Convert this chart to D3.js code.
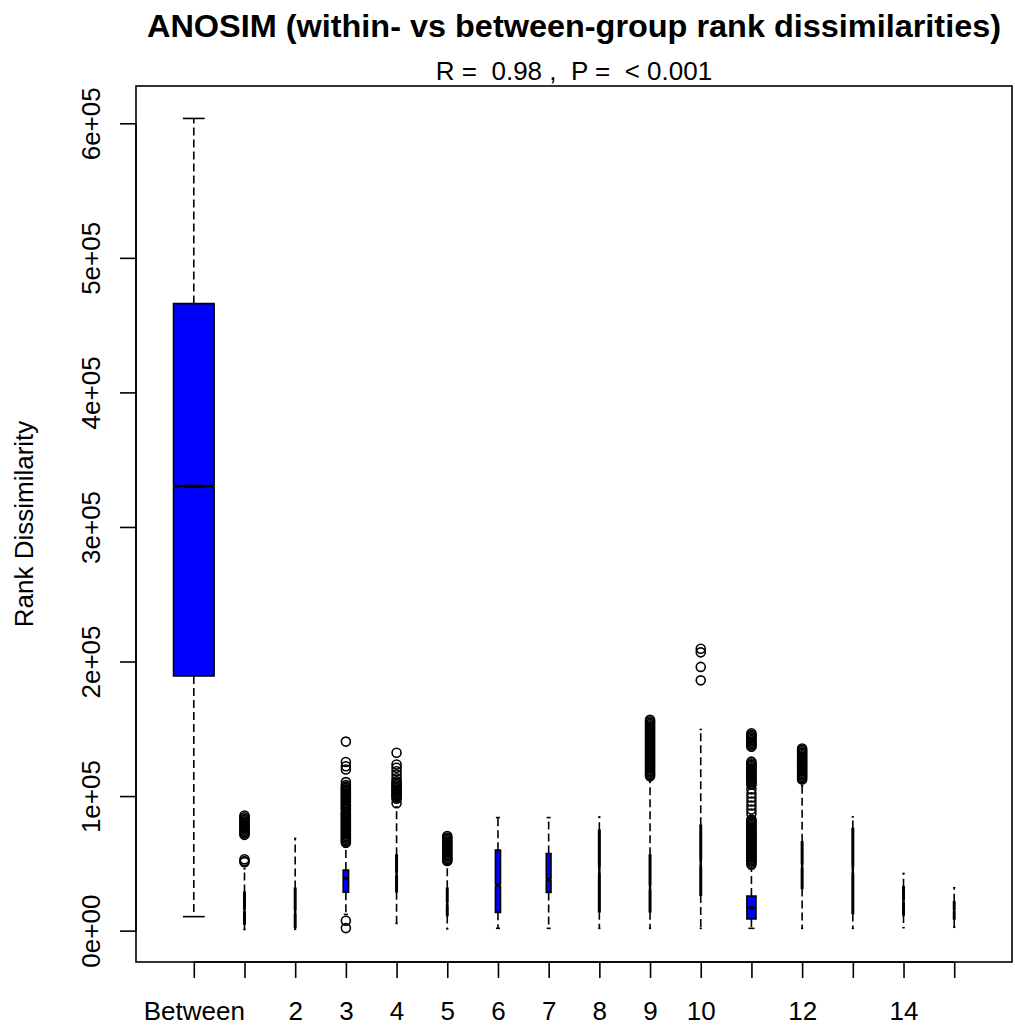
<!DOCTYPE html>
<html>
<head>
<meta charset="utf-8">
<script src="https://cdn.jsdelivr.net/npm/d3@7"></script>
<style>
  html, body { margin: 0; padding: 0; background: #fff; }
  svg text { font-family: "Liberation Sans", Arial, sans-serif; white-space: pre; fill: #000; }
</style>
</head>
<body>
<svg id="chart" width="1015" height="1028"></svg>
<script>
// ANOSIM rank dissimilarities: "Between" plus within-group classes 1..15
const groups = ["Between", "1", "2", "3", "4", "5", "6", "7", "8", "9", "10", "11", "12", "13", "14", "15"];
// labels that survive R's overlap check on the x axis
const xTickLabels = ["Between", "", "2", "3", "4", "5", "6", "7", "8", "9", "10", "", "12", "", "14", ""];
// number of dissimilarity pairs in each class (drives varwidth and notches)
const pairCounts = [522000, 620, 600, 9200, 640, 590, 8200, 7000, 650, 630, 610, 26200, 620, 640, 600, 580];

// five-number summaries
const whiskerLow  = [10400, 800, 1000, 12000, 5400, 1300, 1700, 1700, 1700, 1700, 1700, 1700, 1700, 1700, 2200, 2500];
const lowerHinge  = [189300, 5000, 2500, 28500, 28900, 11300, 13600, 28400, 14100, 14100, 26400, 8600, 31400, 12800, 11600, 8600];
const medians     = [330300, 15000, 14000, 39000, 42000, 20000, 33800, 38000, 45000, 32000, 50000, 17000, 48000, 45000, 22000, 15000];
const upperHinge  = [466000, 28400, 31400, 45000, 56100, 31500, 59800, 57300, 74600, 56100, 78300, 25700, 66000, 75900, 32600, 21500];
const whiskerHigh = [603600, 46000, 68500, 62000, 92000, 48600, 84000, 84000, 84500, 110700, 149500, 46000, 107800, 84500, 42500, 31900];

// points beyond the whiskers
const outliersBetween = [];
const outliers1 = [85600, 84300, 83200, 82200, 81200, 80200, 79200, 78200, 77200, 76200, 75200, 74200, 73200, 72200, 71200, 53000, 51800, 50900];
const outliers2 = [];
const outliers3 = [140500, 125300, 122200, 119800, 110400, 108200, 107000, 106000, 105000, 104000, 103000, 102000, 101000, 100000, 99000, 98000, 97000, 96000, 95000, 94000, 93000, 92000, 91000, 90200, 88400, 87400, 86400, 85400, 84400, 83400, 82400, 81400, 80400, 79400, 78400, 77400, 76400, 75400, 74400, 73400, 72400, 71400, 70400, 69400, 68400, 67400, 66400, 65400, 7300, 1900];
const outliers4 = [132200, 123500, 121000, 118500, 116000, 113200, 111000, 110000, 109000, 108000, 107000, 106000, 105000, 104000, 103000, 102000, 101000, 100000, 99000, 98000, 94700];
const outliers5 = [70300, 69200, 68200, 67200, 66200, 65200, 64200, 63200, 62200, 61200, 60200, 59200, 58200, 57200, 56200, 55200, 54200, 53200, 52200, 51800];
const outliers6 = [];
const outliers7 = [];
const outliers8 = [];
const outliers9 = [156700, 155600, 154600, 153600, 152600, 151600, 150600, 149600, 148600, 147600, 146600, 145600, 144600, 143600, 142600, 141600, 140600, 139600, 138600, 137600, 136600, 135600, 134600, 133600, 132600, 131600, 130600, 129600, 128600, 127600, 126600, 125600, 124600, 123600, 122600, 121600, 120600, 119600, 118600, 117600, 116600, 115600, 114800];
const outliers10 = [209500, 206800, 196000, 186000];
const outliers11 = [146700, 145600, 144600, 143600, 142600, 141600, 140600, 139600, 138600, 137600, 136700,
  125600, 124400, 123400, 122400, 121400, 120400, 119400, 118400, 117400, 116400, 115400, 114400, 113400, 112400, 111400, 110400, 109400, 108500,
  105000, 102000, 99000, 96000, 93000, 90000, 87000,
  82500, 81500, 80500, 79500, 78500, 77500, 76500, 75500, 74500, 73500, 72500, 71500, 70500, 69500, 68500, 67500, 66500, 65500, 64500, 63500, 62500, 61500, 60500, 59500, 58500, 57500, 56500, 55500, 54500, 53500, 52500, 51500, 50500, 49200];
const outliers12 = [135400, 134300, 133300, 132300, 131300, 130300, 129300, 128300, 127300, 126300, 125300, 124300, 123300, 122300, 121300, 120300, 119300, 118300, 117300, 116300, 115300, 114300, 113300, 112400];
const outliers13 = [];
const outliers14 = [];
const outliers15 = [];
const outliers = [outliersBetween, outliers1, outliers2, outliers3, outliers4, outliers5, outliers6, outliers7,
  outliers8, outliers9, outliers10, outliers11, outliers12, outliers13, outliers14, outliers15];

const yTicks = [0, 100000, 200000, 300000, 400000, 500000, 600000];
const yTickLabels = ["0e+00", "1e+05", "2e+05", "3e+05", "4e+05", "5e+05", "6e+05"];

const titleText = "ANOSIM (within- vs between-group rank dissimilarities)";
const statText = "R =  0.98 ,  P =  < 0.001";
const yTitle = "Rank Dissimilarity";

// ---- layout ----
const svg = d3.select("#chart");
const plot = { left: 136, right: 1012, top: 86, bottom: 962 };
const nG = groups.length;
const boxwex = 0.8, notchFrac = 0.5, stapleWex = 0.5;
const lw = 1.6;   // base line width

const allValues = d3.merge([whiskerLow, whiskerHigh, d3.merge(outliers)]);
const [vMin, vMax] = d3.extent(allValues);
const vPad = (vMax - vMin) * 0.04;
const y = d3.scaleLinear().domain([vMin - vPad, vMax + vPad]).range([plot.bottom, plot.top]);
const xPad = nG * 0.04;
const x = d3.scaleLinear().domain([0.5 - xPad, nG + 0.5 + xPad]).range([plot.left, plot.right]);

const maxSqrt = d3.max(pairCounts, n => Math.sqrt(n));
const stats = groups.map((g, i) => {
  const n = pairCounts[i];
  const halfW = (boxwex * Math.sqrt(n) / maxSqrt) / 2;          // in x units
  const iqr = upperHinge[i] - lowerHinge[i];
  const conf = 1.58 * iqr / Math.sqrt(n);
  return {
    i, pos: i + 1, halfW,
    lo: whiskerLow[i], q1: lowerHinge[i], med: medians[i], q3: upperHinge[i], hi: whiskerHigh[i],
    cLo: medians[i] - conf, cHi: medians[i] + conf
  };
});
const px = d => x(d.pos);
const pw = d => x(d.pos + d.halfW) - x(d.pos);   // half width in px

const g = svg.append("g");

// whiskers (dashed, drawn outward from the hinges)
g.selectAll(".whisker").data(stats.flatMap(d => [[d, d.q3, d.hi], [d, d.q1, d.lo]]))
  .join("line").attr("class", "whisker")
  .attr("x1", a => px(a[0])).attr("x2", a => px(a[0]))
  .attr("y1", a => y(a[1])).attr("y2", a => y(a[2]))
  .attr("stroke", "#000").attr("stroke-width", lw).attr("stroke-dasharray", "8,4");

// staples
g.selectAll(".staple").data(stats.flatMap(d => [[d, d.hi], [d, d.lo]]))
  .join("line").attr("class", "staple")
  .attr("x1", a => px(a[0]) - pw(a[0]) * stapleWex).attr("x2", a => px(a[0]) + pw(a[0]) * stapleWex)
  .attr("y1", a => y(a[1])).attr("y2", a => y(a[1]))
  .attr("stroke", "#000").attr("stroke-width", lw).attr("stroke-linecap", "square");

// notched boxes
const boxPath = d => {
  const cx = px(d), w = pw(d);
  const xs = [-1, 1, 1, notchFrac, 1, 1, -1, -1, -notchFrac, -1].map(k => cx + k * w);
  const ys = [d.q1, d.q1, d.cLo, d.med, d.cHi, d.q3, d.q3, d.cHi, d.med, d.cLo].map(v => y(v));
  return "M" + xs.map((xv, k) => xv + "," + ys[k]).join("L") + "Z";
};
g.selectAll(".box").data(stats).join("path").attr("class", "box")
  .attr("d", boxPath)
  .attr("fill", "#0000ff").attr("stroke", "#000").attr("stroke-width", lw)
  .attr("stroke-linejoin", "miter");

// medians
g.selectAll(".median").data(stats).join("line").attr("class", "median")
  .attr("x1", d => px(d) - pw(d) * notchFrac).attr("x2", d => px(d) + pw(d) * notchFrac)
  .attr("y1", d => y(d.med)).attr("y2", d => y(d.med))
  .attr("stroke", "#000").attr("stroke-width", 3.4).attr("stroke-linecap", "butt");

// outliers (open circles)
const outPts = outliers.flatMap((arr, i) => arr.map(v => ({ pos: i + 1, v })));
g.selectAll(".out").data(outPts).join("circle").attr("class", "out")
  .attr("cx", d => x(d.pos)).attr("cy", d => y(d.v)).attr("r", 4.5)
  .attr("fill", "none").attr("stroke", "#000").attr("stroke-width", 1.6);

// frame
svg.append("rect")
  .attr("x", plot.left).attr("y", plot.top)
  .attr("width", plot.right - plot.left).attr("height", plot.bottom - plot.top)
  .attr("fill", "none").attr("stroke", "#000").attr("stroke-width", lw);

// y axis
const yAxis = d3.axisLeft(y).tickValues(yTicks).tickSize(16).tickPadding(0)
  .tickFormat((d, i) => yTickLabels[i]);
const yG = svg.append("g").attr("transform", `translate(${plot.left},0)`).call(yAxis);
yG.select(".domain").attr("d", `M0,${y(yTicks[0])}V${y(yTicks[yTicks.length - 1])}`)
  .attr("stroke", "#000").attr("stroke-width", lw);
yG.selectAll(".tick line").attr("stroke", "#000").attr("stroke-width", lw);
yG.selectAll(".tick text")
  .attr("x", null).attr("dy", null)
  .attr("transform", "translate(-36,0) rotate(-90)")
  .attr("text-anchor", "middle")
  .style("font-size", "26px").style("font-family", null);

// x axis
const xAxis = d3.axisBottom(x).tickValues(d3.range(1, nG + 1)).tickSize(16).tickPadding(0)
  .tickFormat((d, i) => xTickLabels[i]);
const xG = svg.append("g").attr("transform", `translate(0,${plot.bottom})`).call(xAxis);
xG.select(".domain").attr("d", `M${x(1)},0H${x(nG)}`)
  .attr("stroke", "#000").attr("stroke-width", lw);
xG.selectAll(".tick line").attr("stroke", "#000").attr("stroke-width", lw);
xG.selectAll(".tick text").attr("y", 58).attr("dy", null)
  .style("font-size", "26px").style("font-family", null);
svg.selectAll(".tick text").attr("fill", "#000");

// titles
const cx = (plot.left + plot.right) / 2;
svg.append("text").attr("x", cx).attr("y", 37).attr("text-anchor", "middle")
  .style("font-size", "32px").style("font-weight", "bold")
  .attr("textLength", 854).attr("lengthAdjust", "spacingAndGlyphs")
  .text(titleText);
svg.append("text").attr("x", cx).attr("y", 80).attr("text-anchor", "middle")
  .style("font-size", "26px")
  .text(statText);
svg.append("text")
  .attr("transform", `translate(33,${(plot.top + plot.bottom) / 2}) rotate(-90)`)
  .attr("text-anchor", "middle")
  .style("font-size", "26px")
  .text(yTitle);
</script>
</body>
</html>
